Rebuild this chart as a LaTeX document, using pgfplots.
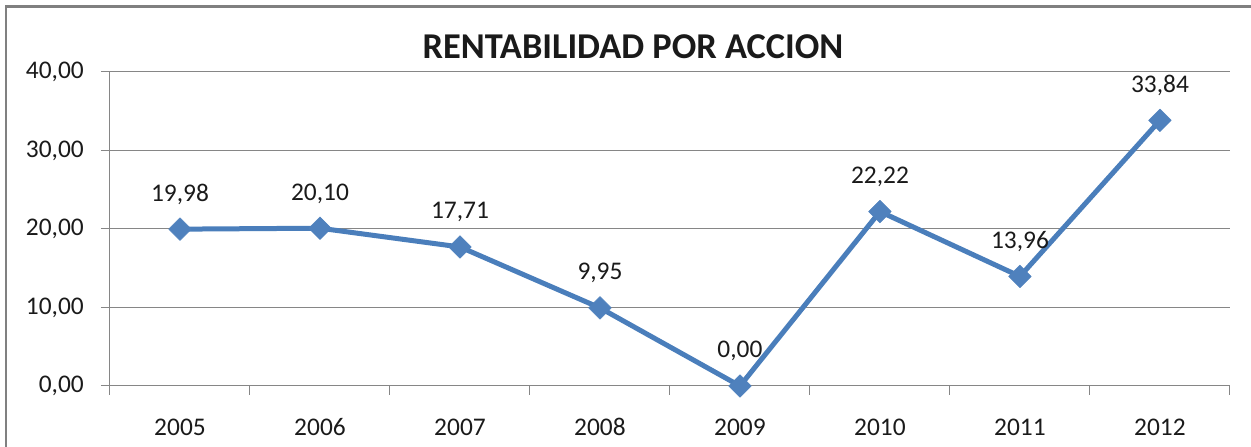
\documentclass[border=0pt]{standalone}
\usepackage{pgfplots}
\pgfplotsset{compat=1.18}
\usepackage{fontspec}
\setmainfont{Carlito}
\definecolor{serie}{HTML}{4A7EBB}
\definecolor{markc}{HTML}{4F81BD}
\definecolor{gridc}{HTML}{868686}
\definecolor{framec}{HTML}{808080}
\definecolor{txt}{HTML}{1A1A1A}
\begin{document}
\begin{tikzpicture}[x=1bp,y=1bp]
\begin{axis}[
  name=ax, at={(0,0)}, anchor=south west, scale only axis,
  width=1120bp, height=314bp,
  xmin=-0.5, xmax=7.5, ymin=0, ymax=40,
  axis x line*=bottom, axis y line*=left,
  axis line style={gridc, line width=1bp, -},
  tick style={gridc, line width=1bp},
  tick align=outside, major tick length=9bp,
  ytick={0,10,20,30,40},
  yticklabels={{0,00},{10,00},{20,00},{30,00},{40,00}},
  xtick={-0.5,0.5,1.5,2.5,3.5,4.5,5.5,6.5,7.5},
  xticklabels={2005,2006,2007,2008,2009,2010,2011,2012,{}},
  xticklabel style={xshift=70bp, anchor=base, inner sep=0, yshift=-41bp},
  yticklabel style={anchor=east, inner sep=0, xshift=-17bp},
  ymajorgrids, grid style={gridc, line width=1bp},
  tick label style={font=\fontsize{25.5}{30}\selectfont, text=txt, /pgf/number format/assume math mode=true},
  clip=false,
  nodes near coords,
  /pgf/number format/.cd, use comma, fixed, fixed zerofill, precision=2, assume math mode=true,
  /pgfplots/.cd,
  every node near coord/.append style={anchor=base, yshift=28bp, inner sep=0, font=\fontsize{25.5}{30}\selectfont, text=txt},
]
\addplot[serie, line width=5bp, line join=round, mark=square*, mark size=8bp,
  mark options={rotate=45, fill=markc, draw=markc, line width=0.5bp}]
  coordinates {(0,19.98) (1,20.10) (2,17.71) (3,9.95) (4,0.00) (5,22.22) (6,13.96) (7,33.84)};
\end{axis}
\begin{scope}[shift={(ax.south west)}, xshift=-110bp, yshift=-61bp]
\draw[framec, line width=2.5bp] (6,-10) -- (6,440.5) -- (1260,440.5);
\node[anchor=base, inner sep=0, text=txt, font=\fontsize{36.5}{42}\selectfont\bfseries] at (633,388.7) {RENTABILIDAD POR ACCION};
\end{scope}
\pgfresetboundingbox
\begin{scope}[shift={(ax.south west)}, xshift=-110bp, yshift=-61bp]
\path (0,0) rectangle (1251,447);
\end{scope}
\end{tikzpicture}
\end{document}
